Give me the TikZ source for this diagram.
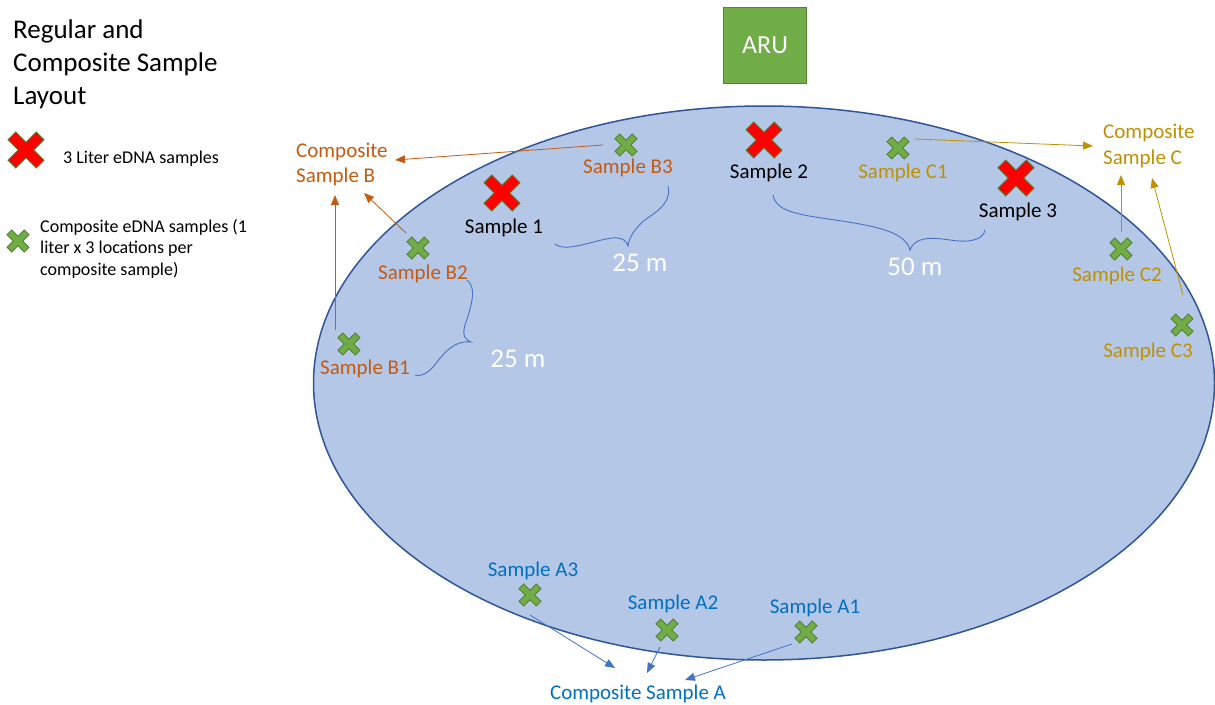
\documentclass[tikz,border=0pt]{standalone}
\usepackage{fontspec}
\setmainfont{Carlito}
\usetikzlibrary{arrows.meta}
\definecolor{lakefill}{HTML}{B4C7E7}
\definecolor{lakeedge}{HTML}{2F5597}
\definecolor{grn}{HTML}{70AD47}
\definecolor{dgrn}{HTML}{548235}
\definecolor{orng}{HTML}{C55A11}
\definecolor{gold}{HTML}{BF9000}
\definecolor{blu}{HTML}{0070C0}
\definecolor{lblu}{HTML}{4472C4}
\tikzset{
  pics/xmark/.style={code={\path[pic actions] (0.43,0) -- (1,0.57) -- (0.57,1) -- (0,0.43) -- (-0.57,1) -- (-1,0.57) -- (-0.43,0) -- (-1,-0.57) -- (-0.57,-1) -- (0,-0.43) -- (0.57,-1) -- (1,-0.57) -- cycle;}},
  bigx/.style={fill=red, draw=dgrn, line width=0.8pt, scale=18},
  smallx/.style={fill=grn, draw=dgrn, line width=0.8pt, scale=11},
  lbl/.style={font=\fontsize{21}{25}\selectfont, inner sep=0pt, anchor=base},
  dist/.style={font=\fontsize{27}{30}\selectfont, text=white, inner sep=0pt, anchor=base},
  bracecurve/.style={draw=lblu, line width=0.9pt},
  arr/.style={line width=0.8pt, -{Triangle[length=10pt,width=8pt]}},
}
\begin{document}
\begin{tikzpicture}[x=1pt,y=-1pt]
\useasboundingbox (0,0) rectangle (1215,704);
% lake
\draw[fill=lakefill, draw=lakeedge, line width=1.5pt] (764,383) ellipse [x radius=450.5, y radius=277];
% ARU
\node[draw=dgrn, fill=grn, line width=1.2pt, minimum width=83pt, minimum height=76pt, text=white, font=\fontsize{26}{30}\selectfont] (aru) at (765,45.5) {ARU};
% title and legend (base anchor = last line)
\node[anchor=base west, align=left, inner sep=0pt, font=\fontsize{27}{33}\selectfont] (title) at (13,104) {Regular and\\Composite Sample\\Layout};
\pic[bigx] (legx1) at (26,150) {xmark};
\node[anchor=base west, inner sep=0pt, font=\fontsize{18}{21.5}\selectfont] (leg1) at (63,163) {3 Liter eDNA samples};
\pic[smallx] (legx2) at (18,241) {xmark};
\node[anchor=base west, align=left, inner sep=0pt, font=\fontsize{18}{21.5}\selectfont] (leg2) at (40,275) {Composite eDNA samples (1\\liter x 3 locations per\\composite sample)};
% regular samples
\pic[bigx] (s1x) at (502,193) {xmark};
\pic[bigx] (s2x) at (764,140) {xmark};
\pic[bigx] (s3x) at (1016,178) {xmark};
\node[lbl] (s1) at (504,233) {Sample 1};
\node[lbl] (s2) at (769,178) {Sample 2};
\node[lbl] (s3) at (1018,217) {Sample 3};
% composite samples
\pic[smallx] (b1x) at (349,344) {xmark};
\pic[smallx] (b2x) at (418,248) {xmark};
\pic[smallx] (b3x) at (626,145) {xmark};
\pic[smallx] (c1x) at (898,148) {xmark};
\pic[smallx] (c2x) at (1121,249) {xmark};
\pic[smallx] (c3x) at (1182,325) {xmark};
\pic[smallx] (a1x) at (806,632) {xmark};
\pic[smallx] (a2x) at (667,630) {xmark};
\pic[smallx] (a3x) at (530,595) {xmark};
\node[lbl, text=orng] (b1) at (365,374) {Sample B1};
\node[lbl, text=orng] (b2) at (423,279) {Sample B2};
\node[lbl, text=orng] (b3) at (628,173) {Sample B3};
\node[lbl, text=gold] (c1) at (903,178) {Sample C1};
\node[lbl, text=gold] (c2) at (1117,281) {Sample C2};
\node[lbl, text=gold] (c3) at (1148,357) {Sample C3};
\node[lbl, text=blu] (a1) at (815,613) {Sample A1};
\node[lbl, text=blu] (a2) at (673,609) {Sample A2};
\node[lbl, text=blu] (a3) at (533,576) {Sample A3};
\node[anchor=base west, align=left, inner sep=0pt, text=orng, font=\fontsize{21}{25}\selectfont] (compb) at (296,182) {Composite\\Sample B};
\node[anchor=base west, align=left, inner sep=0pt, text=gold, font=\fontsize{21}{26}\selectfont] (compc) at (1103,164) {Composite\\Sample C};
\node[lbl, text=blu] (compa) at (638,699) {Composite Sample A};
% distances
\node[dist] (d1) at (640,271) {25 m};
\node[dist] (d2) at (915,275) {50 m};
\node[dist] (d3) at (518,367) {25 m};
% braces
\draw[bracecurve] (555,244) .. controls (565,253) and (595,240) .. (612,238) .. controls (622,237) and (627,241) .. (628,246) .. controls (629,235) and (640,222) .. (652,215) .. controls (664,207) and (671,197) .. (668,186);
\draw[bracecurve] (773,195) .. controls (775,208) and (790,213) .. (815,217) .. controls (860,224) and (905,228) .. (910,250) .. controls (915,237) and (930,237) .. (950,240) .. controls (970,243) and (983,240) .. (985,230);
\draw[bracecurve] (467,280) .. controls (478,288) and (470,310) .. (465,325) .. controls (462,335) and (465,340) .. (471,342) .. controls (455,340) and (445,352) .. (437,362) .. controls (430,372) and (422,377) .. (415,375);
% arrow ends
\coordinate (b1s) at (335,330); \coordinate (b1t) at (335,195);
\coordinate (b2s) at (406,233); \coordinate (b2t) at (364,193);
\coordinate (b3s) at (603,145); \coordinate (b3t) at (395,160);
\coordinate (c1s) at (915,139); \coordinate (c1t) at (1093,146);
\coordinate (c2s) at (1121,232); \coordinate (c2t) at (1121,175);
\coordinate (c3s) at (1183,295); \coordinate (c3t) at (1152,178);
\coordinate (a3s) at (530,615); \coordinate (a3t) at (615,668);
\coordinate (a2s) at (660,647); \coordinate (a2t) at (647,673);
\coordinate (a1s) at (792,644); \coordinate (a1t) at (685,680);
\draw[arr, orng] (b1s) -- (b1t);
\draw[arr, orng] (b2s) -- (b2t);
\draw[arr, orng] (b3s) -- (b3t);
\draw[arr, gold] (c1s) -- (c1t);
\draw[arr, gold] (c2s) -- (c2t);
\draw[arr, gold] (c3s) -- (c3t);
\draw[arr, lblu] (a3s) -- (a3t);
\draw[arr, lblu] (a2s) -- (a2t);
\draw[arr, lblu] (a1s) -- (a1t);
\end{tikzpicture}
\end{document}
